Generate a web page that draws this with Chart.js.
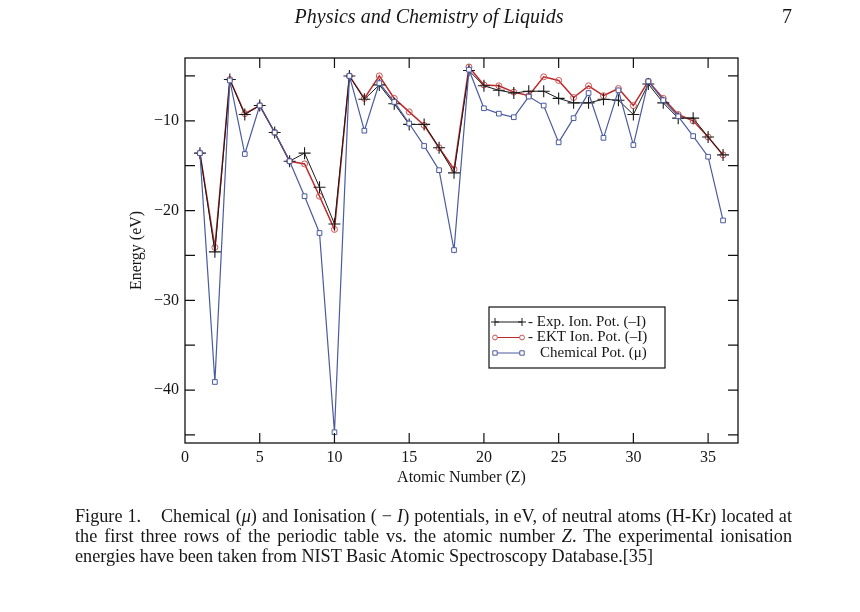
<!DOCTYPE html>
<html><head><meta charset="utf-8">
<script src="https://cdn.jsdelivr.net/npm/chart.js@4.4.1/dist/chart.umd.min.js"></script>
<style>
html,body{margin:0;padding:0;background:#fff;}
#wrap{position:relative;width:860px;height:612px;overflow:hidden;background:#fff;}
#c{position:absolute;left:0;top:0;}
.serif{font-family:"Liberation Serif","DejaVu Serif",serif;color:#161616;}
#hdr{position:absolute;left:0;width:858px;top:5px;text-align:center;font-style:italic;font-size:20px;line-height:22px;}
#pg{position:absolute;left:782px;top:5px;font-size:20px;line-height:22px;}
#cap{position:absolute;left:75px;top:506px;width:717px;font-size:18.2px;line-height:20px;}
#cap .j{display:block;text-align:justify;text-align-last:justify;}
#cap .l{display:block;text-align:left;}
</style>
</head><body>
<div id="wrap">
<canvas id="c" width="860" height="612"></canvas>
<div id="hdr" class="serif">Physics and Chemistry of Liquids</div>
<div id="pg" class="serif">7</div>
<div id="cap" class="serif">
<span class="j">Figure 1.&nbsp;&nbsp;&nbsp; Chemical (<i>μ</i>) and Ionisation ( − <i>I</i>) potentials, in eV, of neutral atoms (H-Kr) located at</span>
<span class="j">the first three rows of the periodic table vs. the atomic number <i>Z</i>. The experimental ionisation</span>
<span class="l">energies have been taken from NIST Basic Atomic Spectroscopy Database.[35]</span>
</div>
</div>
<script>
// ---- data ----
const atomicNumber = [1,2,3,4,5,6,7,8,9,10,11,12,13,14,15,16,17,18,19,20,21,22,23,24,25,26,27,28,29,30,31,32,33,34,35,36];
const expIonPot = [-13.6,-24.6,-5.4,-9.3,-8.3,-11.3,-14.5,-13.6,-17.4,-21.5,-5.0,-7.6,-6.0,-8.1,-10.4,-10.4,-13.0,-15.8,-4.4,-6.1,-6.6,-6.9,-6.7,-6.7,-7.5,-8.0,-8.0,-7.6,-7.7,-9.3,-5.9,-8.0,-9.7,-9.7,-11.8,-13.8];
const ektIonPot = [-13.6,-24.1,-5.4,-9.2,-8.3,-11.3,-14.5,-14.8,-18.4,-22.1,-5.0,-7.5,-5.0,-7.5,-9.0,-10.5,-13.0,-15.4,-4.0,-6.0,-6.1,-6.8,-7.2,-5.1,-5.5,-7.4,-6.1,-7.2,-6.4,-8.3,-5.6,-7.5,-9.3,-10.0,-11.8,-13.8];
const chemPot = [-13.6,-39.1,-5.5,-13.7,-8.3,-11.3,-14.5,-18.4,-22.5,-44.7,-5.0,-11.1,-5.8,-7.9,-10.3,-12.8,-15.5,-24.4,-4.3,-8.6,-9.2,-9.6,-7.3,-8.3,-12.4,-9.7,-6.9,-11.9,-6.6,-12.7,-5.6,-7.7,-9.5,-11.7,-14.0,-21.1];
const seriesLabels = ['- Exp. Ion. Pot. (–I)', '- EKT Ion. Pot. (–I)', 'Chemical Pot. (μ)'];
const xTitle = 'Atomic Number (Z)';
const yTitle = 'Energy (eV)';
const yLabelValues = [-10,-20,-30,-40];

const SERIF = '"Liberation Serif","DejaVu Serif",serif';
const BLACK = '#1a1a1a', RED = '#bb2a2a', RED_PT = '#d05050', BLUE = '#4a5b9e';
const pts = arr => atomicNumber.map((z,i)=>({x:z,y:arr[i]}));

const framePlugin = {
  id:'frame',
  afterDatasetsDraw(chart){
    const {ctx, chartArea:a, scales:{x,y}} = chart;
    ctx.save();
    ctx.strokeStyle = '#111'; ctx.lineWidth = 1.3;
    ctx.strokeRect(a.left, a.top, a.right-a.left, a.bottom-a.top);
    const L = 10;
    ctx.lineWidth = 1.2;
    ctx.beginPath();
    x.ticks.forEach(t=>{
      const px = x.getPixelForValue(t.value);
      if (px <= a.left+1 || px >= a.right-1) return;
      ctx.moveTo(px, a.bottom); ctx.lineTo(px, a.bottom-L);
      ctx.moveTo(px, a.top); ctx.lineTo(px, a.top+L);
    });
    y.ticks.forEach(t=>{
      const py = y.getPixelForValue(t.value);
      if (py <= a.top+1 || py >= a.bottom-1) return;
      ctx.moveTo(a.left, py); ctx.lineTo(a.left+L, py);
      ctx.moveTo(a.right, py); ctx.lineTo(a.right-L, py);
    });
    ctx.stroke();

    // legend
    const bx=489, by=307, bw=176, bh=61;
    ctx.fillStyle='#fff'; ctx.fillRect(bx,by,bw,bh);
    ctx.strokeStyle='#111'; ctx.lineWidth=1.2; ctx.strokeRect(bx,by,bw,bh);
    const rows=[322,337.5,353];
    ctx.font = '15px '+SERIF; ctx.textBaseline='middle'; ctx.textAlign='left';
    chart.data.datasets.forEach((ds,i)=>{
      const yy = rows[i], x0=495, x1=522;
      ctx.strokeStyle = ds.borderColor; ctx.lineWidth = 1;
      ctx.beginPath(); ctx.moveTo(x0,yy); ctx.lineTo(x1,yy); ctx.stroke();
      [x0,x1].forEach(mx=>{
        ctx.strokeStyle = ds.pointBorderColor; ctx.lineWidth=1;
        ctx.beginPath();
        if (ds.pointStyle==='cross'){ ctx.moveTo(mx-4,yy); ctx.lineTo(mx+4,yy); ctx.moveTo(mx,yy-4); ctx.lineTo(mx,yy+4); ctx.stroke(); }
        else if (ds.pointStyle==='circle'){ ctx.fillStyle='#fff'; ctx.arc(mx,yy,2.4,0,Math.PI*2); ctx.fill(); ctx.stroke(); }
        else { ctx.fillStyle='#fff'; ctx.rect(mx-2.2,yy-2.2,4.4,4.4); ctx.fill(); ctx.stroke(); }
      });
      ctx.fillStyle='#161616';
      const lab = ds.label;
      ctx.fillText(lab, lab.startsWith('-') ? 528 : 540, yy);
    });
    ctx.restore();
  }
};

new Chart(document.getElementById('c'), {
  type:'line',
  data:{datasets:[
    {label:seriesLabels[0], data:pts(expIonPot), borderColor:BLACK, borderWidth:1, pointStyle:'cross', pointRadius:6, pointBorderColor:BLACK, pointBorderWidth:1.1, backgroundColor:BLACK, tension:0, order:1},
    {label:seriesLabels[1], data:pts(ektIonPot), borderColor:RED, borderWidth:1.5, pointStyle:'circle', pointRadius:3, pointBorderColor:RED_PT, pointBackgroundColor:'rgba(255,255,255,0)', pointBorderWidth:1, tension:0, order:2},
    {label:seriesLabels[2], data:pts(chemPot), borderColor:BLUE, borderWidth:1.2, pointStyle:'rect', pointRadius:3.3, pointBorderColor:BLUE, pointBackgroundColor:'#fff', pointBorderWidth:1, tension:0, order:0}
  ]},
  options:{
    responsive:false, animation:false, devicePixelRatio:1,
    layout:{padding:{left:125, top:58, right:122, bottom:119}},
    plugins:{legend:{display:false}, tooltip:{enabled:false}},
    scales:{
      x:{type:'linear', min:0, max:37,
        grid:{display:false, drawTicks:false}, border:{display:false},
        ticks:{stepSize:5, includeBounds:false, padding:5, color:'#161616', font:{family:SERIF,size:16}, maxRotation:0, autoSkip:false},
        title:{display:true, text:xTitle, color:'#161616', font:{family:SERIF,size:16}, padding:{top:0,bottom:6}},
        afterFit(s){ s.height = 50; }
      },
      y:{type:'linear', min:-45.9, max:-3,
        grid:{display:false, drawTicks:false}, border:{display:false},
        ticks:{stepSize:5, includeBounds:false, padding:6, color:'#161616', font:{family:SERIF,size:16}, autoSkip:false,
          callback:(v)=> yLabelValues.includes(v) ? ('−'+Math.abs(v)) : ''},
        title:{display:true, text:yTitle, color:'#161616', font:{family:SERIF,size:16}, padding:{top:2,bottom:0}},
        afterFit(s){ s.width = 60; }
      }
    }
  },
  plugins:[framePlugin]
});
</script>
</body></html>
